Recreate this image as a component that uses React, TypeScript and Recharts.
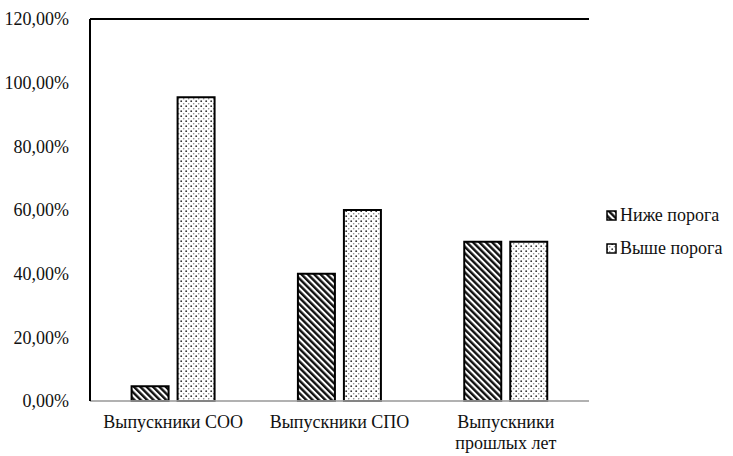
import { Bar, BarChart, CartesianGrid, ReferenceLine, XAxis, YAxis } from 'recharts';

const categories = ['Выпускники СОО', 'Выпускники СПО', 'Выпускники прошлых лет'];
const belowThreshold = [4.6, 40, 50];
const aboveThreshold = [95.4, 60, 50];
const yTicks = [0, 20, 40, 60, 80, 100, 120];
const seriesNames = ['Ниже порога', 'Выше порога'];

const data = categories.map((name, i) => ({
  name,
  below: belowThreshold[i],
  above: aboveThreshold[i],
}));

const FONT = "'Liberation Serif', 'Times New Roman', 'DejaVu Serif', serif";
const FONT_SIZE = 18;

const formatPercent = (v: number) => `${v.toFixed(2).replace('.', ',')}%`;

// category labels wrap the long one onto two lines
function CategoryTick({ x, y, payload }: any) {
  const lines: string[] =
    payload.value === 'Выпускники прошлых лет'
      ? ['Выпускники', 'прошлых лет']
      : [payload.value];
  return (
    <text x={x} y={y} textAnchor="middle" fill="#111" style={{ fontFamily: FONT, fontSize: FONT_SIZE }}>
      {lines.map((line, i) => (
        <tspan key={line} x={x} dy={i === 0 ? 19 : 21}>
          {line}
        </tspan>
      ))}
    </text>
  );
}

function LegendBox() {
  const item = (label: string, fill: string, top: number) => (
    <div
      key={label}
      style={{ position: 'absolute', left: 606, top, display: 'flex', alignItems: 'center' }}
    >
      <svg width={11} height={11} style={{ marginRight: 3 }}>
        <rect x={1} y={1} width={9} height={9} fill={fill} stroke="#000" strokeWidth={1.5} />
      </svg>
      <span style={{ fontFamily: FONT, fontSize: FONT_SIZE, color: '#111' }}>{label}</span>
    </div>
  );
  return (
    <>
      {item(seriesNames[0], 'url(#hatch)', 205)}
      {item(seriesNames[1], 'url(#dots)', 238)}
    </>
  );
}

export default function App() {
  return (
    <div
      style={{
        position: 'absolute',
        left: 0,
        top: 0,
        width: 733,
        height: 456,
        background: '#fff',
        fontFamily: FONT,
      }}
    >
      <svg width={0} height={0} style={{ position: 'absolute' }}>
        <defs>
          <pattern id="hatch" width="4.5" height="4.5" patternUnits="userSpaceOnUse" patternTransform="rotate(-45)">
            <rect width="4.5" height="4.5" fill="#fff" />
            <rect x="0" y="0" width="2.4" height="4.5" fill="#111" />
          </pattern>
          <pattern id="dots" width="5" height="5" patternUnits="userSpaceOnUse">
            <rect width="5" height="5" fill="#fff" />
            <circle cx="1.2" cy="1.2" r="0.9" fill="#333" />
            <circle cx="3.7" cy="3.7" r="0.8" fill="#888" />
          </pattern>
        </defs>
      </svg>
      <BarChart
        width={733}
        height={456}
        data={data}
        margin={{ top: 19, right: 144, bottom: 0, left: 0 }}
        barCategoryGap="25%"
        barGap={9}
        style={{ fontFamily: FONT }}
      >
        <CartesianGrid vertical={false} stroke="#9a9a9a" strokeWidth={1.5} />
        <XAxis
          dataKey="name"
          tick={<CategoryTick />}
          tickLine={false}
          axisLine={{ stroke: '#b0b0b0', strokeWidth: 1.5 }}
          interval={0}
          height={55}
        />
        <YAxis
          yAxisId="left"
          width={90}
          domain={[0, 120]}
          ticks={yTicks}
          tickFormatter={formatPercent}
          tickLine={false}
          axisLine={{ stroke: '#000', strokeWidth: 2 }}
          tickMargin={15}
          tick={{ fill: '#111', fontSize: FONT_SIZE, style: { fontFamily: FONT } }}
        />
        <YAxis
          yAxisId="right"
          orientation="right"
          width={0}
          domain={[0, 120]}
          tick={false}
          tickLine={false}
          axisLine={{ stroke: '#000', strokeWidth: 2 }}
        />
        <ReferenceLine yAxisId="left" y={120} stroke="#000" strokeWidth={2} />
        <Bar
          yAxisId="left"
          dataKey="below"
          name={seriesNames[0]}
          fill="url(#hatch)"
          stroke="#000"
          strokeWidth={2}
          isAnimationActive={false}
        />
        <Bar
          yAxisId="left"
          dataKey="above"
          name={seriesNames[1]}
          fill="url(#dots)"
          stroke="#000"
          strokeWidth={2}
          isAnimationActive={false}
        />
      </BarChart>
      <LegendBox />
    </div>
  );
}
